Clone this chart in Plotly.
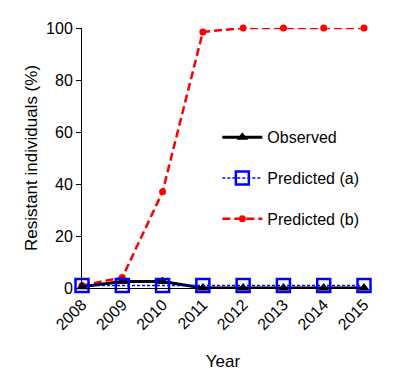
import plotly.graph_objects as go

years = [2008, 2009, 2010, 2011, 2012, 2013, 2014, 2015]
observed = [0.5, 2.5, 2.5, 0, 0, 0, 0, 0]
predicted_a = [1, 1, 1, 1, 1, 1, 1, 1]
predicted_b = [1, 4, 37, 98.5, 100, 100, 100, 100]
y_ticks = [0, 20, 40, 60, 80, 100]

FONT = "Arial, Liberation Sans, sans-serif"

fig = go.Figure()
fig.add_trace(go.Scatter(
    x=years, y=predicted_b, name="Predicted (b)", mode="lines+markers",
    line=dict(color="#ff0000", width=2.5, dash="8px,4px"),
    marker=dict(symbol="circle", size=7, color="#ff0000"),
    legendgroup="b", legendrank=3, cliponaxis=False))
fig.add_trace(go.Scatter(
    x=years, y=observed, name="Observed", mode="lines+markers",
    line=dict(color="black", width=3),
    marker=dict(symbol="triangle-up", size=10, color="black"),
    legendgroup="o", legendrank=1, cliponaxis=False))
fig.add_trace(go.Scatter(
    x=years, y=predicted_a, name="Predicted (a)", mode="lines+markers",
    line=dict(color="#0000ff", width=1.5, dash="3px,2px"),
    marker=dict(symbol="square-open", size=13, color="#0000ff", line=dict(width=2.5)),
    legendgroup="a", legendrank=2, cliponaxis=False))

fig.update_layout(
    width=406, height=377,
    margin=dict(l=74, r=50, t=20, b=97),
    paper_bgcolor="white", plot_bgcolor="white",
    font=dict(family=FONT, size=16, color="black"),
    showlegend=True,
    legend=dict(x=0.48, y=0.645, xanchor="left", yanchor="top",
                traceorder="grouped", tracegroupgap=17, itemwidth=40,
                font=dict(size=16), bgcolor="rgba(0,0,0,0)"),
    xaxis=dict(range=[2008, 2015], tickvals=years, ticktext=[str(y) for y in years],
               tickangle=-45, showgrid=False, zeroline=False, showline=True,
               linecolor="black", linewidth=1, ticks="", automargin=False,
               title=dict(text="Year", font=dict(size=17), standoff=22)),
    yaxis=dict(range=[0, 100], tickvals=y_ticks, showgrid=False, zeroline=False,
               showline=True, linecolor="black", linewidth=1, ticks="outside",
               ticklen=5, tickcolor="black", automargin=False,
               title=dict(text="Resistant individuals (%)", font=dict(size=17), standoff=4)),
)

fig.write_html("out.html")
